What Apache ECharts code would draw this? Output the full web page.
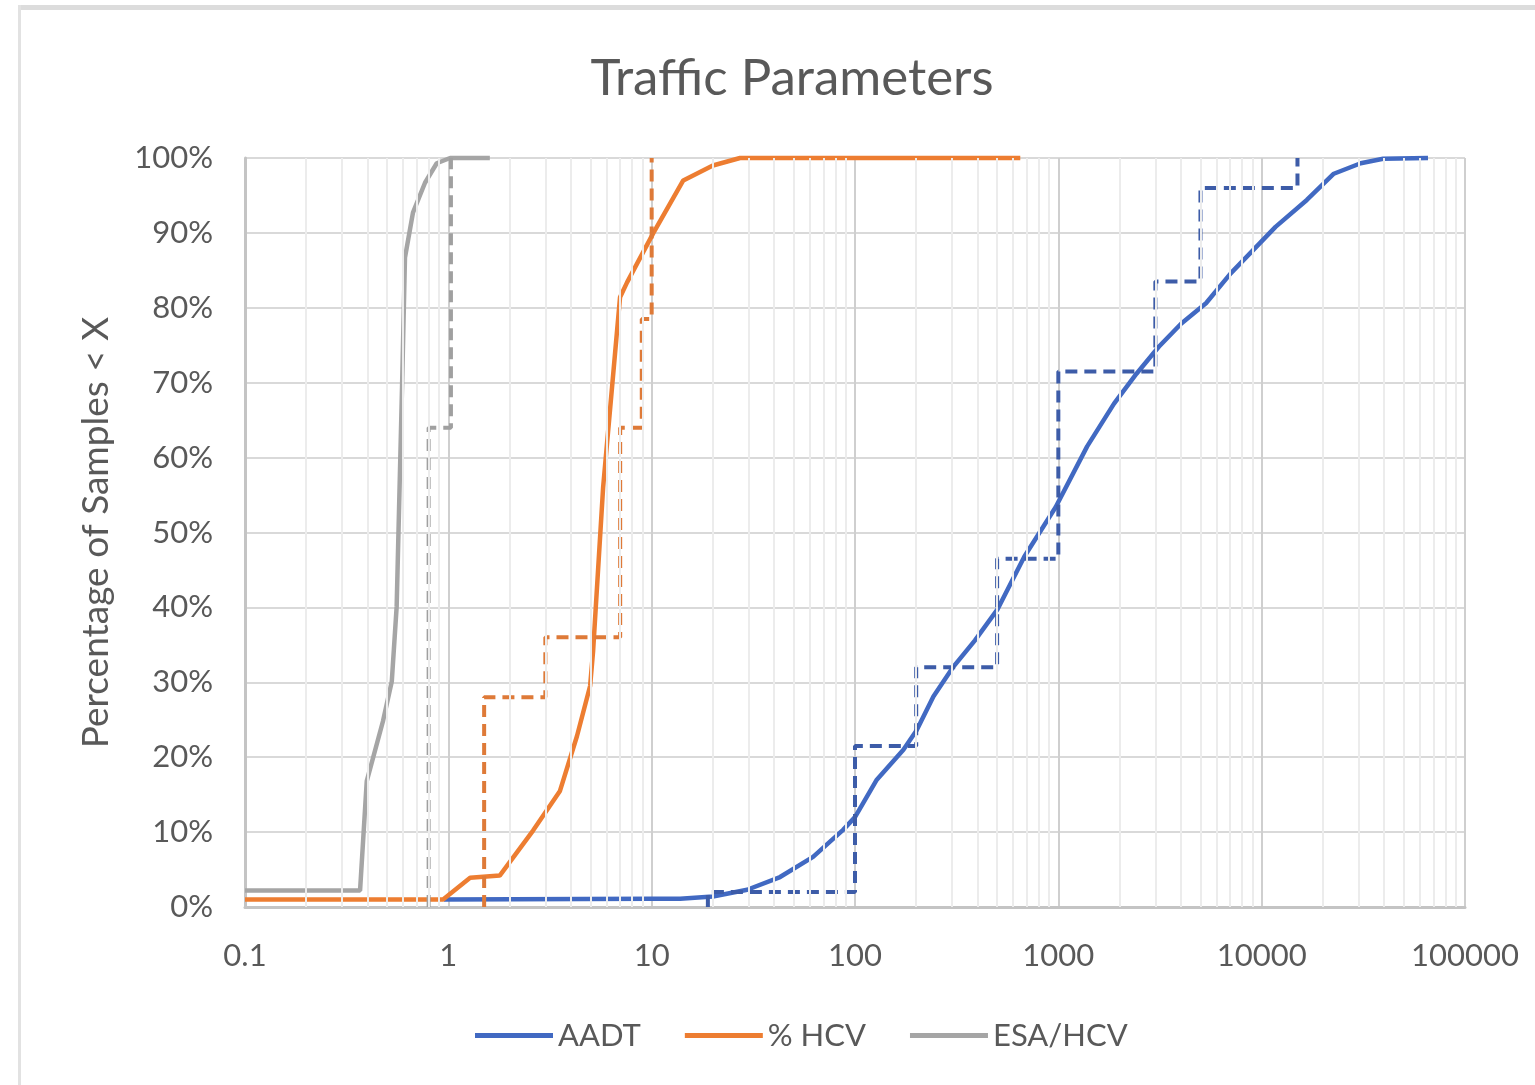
<!DOCTYPE html>
<html>
<head>
<meta charset="utf-8">
<script src="https://cdn.jsdelivr.net/npm/echarts@6/dist/echarts.min.js"></script>
<style>
  html, body { margin: 0; padding: 0; background: #ffffff; }
  #chart { width: 1535px; height: 1085px; }
</style>
</head>
<body>
<div id="chart"></div>
<script>
// ---- Data ----
const xTickLabels = ['0.1', '1', '10', '100', '1000', '10000', '100000'];
const seriesNames = ['AADT', '% HCV', 'ESA/HCV'];

// Cumulative curves: [x, percentage of samples < x]
const aadtCurve = [[0.95,1],[10,1.1],[13.8,1.1],[20,1.4],[29.5,2.3],[42.8,4.0],[62.2,6.7],[87.4,10.3],[100,12],[128,17],[173,21],[201,23.6],[243,28.1],[305,32.1],[389,35.6],[501,39.7],[681,46.8],[971,53.4],[1386,61.5],[1879,67.2],[2423,71.2],[3120,74.8],[4027,77.9],[5323,80.6],[7041,84.6],[9077,87.7],[11700,90.8],[16680,94.4],[22640,97.9],[30700,99.3],[39550,99.9],[65760,100]];
const hcvCurve = [[0.1,1],[0.942,1],[1.28,3.9],[1.79,4.2],[2.61,10.2],[3.54,15.5],[4.29,22.8],[4.98,29.5],[5.15,34.1],[5.77,56],[6.99,81.4],[7.57,83.4],[10.2,90],[14.3,97],[20,99],[27.2,100],[650,100]];
const esaCurve = [[0.1,2.2],[0.368,2.2],[0.397,16.8],[0.477,24.8],[0.527,30.1],[0.557,40.1],[0.592,69.4],[0.612,86.7],[0.670,92.7],[0.768,96.7],[0.877,99.3],[1.02,100],[1.6,100]];

// Step (binned) distributions drawn dashed
const aadtSteps = [[18.9,0],[18.9,2],[100,2],[100,21.5],[200,21.5],[200,32],[500,32],[500,46.5],[1000,46.5],[1000,71.5],[3000,71.5],[3000,83.5],[5000,83.5],[5000,96],[15000,96],[15000,100]];
const hcvSteps = [[1.5,0],[1.5,28],[3,28],[3,36],[7,36],[7,64],[8.94,64],[8.94,78.5],[10,78.5],[10,100]];
const esaSteps = [[0.8,0],[0.8,64],[1.03,64],[1.03,100]];

// minor log gridline positions (2..9 within each decade)
const minorDecades = [0.1, 1, 10, 100, 1000, 10000];
const minorMultipliers = [2, 3, 4, 5, 6, 7, 8, 9];

// ---- Styles ----
const FONT = 'Lato';
const TXT = '#595959';
const colors = { blue: '#4169C2', orange: '#ED7D31', gray: '#A5A5A5' };
const dashColors = { blue: '#3D5CA8', orange: '#DE7A38', gray: '#A0A0A0' };

const minorLines = [];
minorDecades.forEach(d => minorMultipliers.forEach(m => minorLines.push({ xAxis: +(d * m).toPrecision(6) })));

function solid(name, data, color, z) {
  return { name, type: 'line', data, symbol: 'none', showSymbol: false, clip: false, z,
    lineStyle: { color, width: 4.5 }, itemStyle: { color }, emphasis: { disabled: true } };
}
function dashed(name, data, color, z) {
  return { name, type: 'line', data, symbol: 'none', showSymbol: false, clip: false, z,
    lineStyle: { color, width: 4, type: [12, 7] }, itemStyle: { color }, emphasis: { disabled: true } };
}

const chart = echarts.init(document.getElementById('chart'), null, { renderer: 'canvas' });
chart.setOption({
  animation: false,
  backgroundColor: '#ffffff',
  graphic: [
    { type: 'rect', shape: { x: 18, y: 5, width: 1517, height: 5 }, style: { fill: '#dcdcdc' }, silent: true, z: -10 },
    { type: 'rect', shape: { x: 18, y: 5, width: 3, height: 1080 }, style: { fill: '#e2e2e2' }, silent: true, z: -10 }
  ],
  title: {
    text: 'Traffic Parameters',
    left: 792, top: 53, textAlign: 'center', padding: 0,
    textStyle: { fontFamily: FONT, fontSize: 51, fontWeight: 'normal', color: TXT }
  },
  legend: {
    data: seriesNames,
    left: 475, top: 1020,
    icon: 'rect',
    itemWidth: 78, itemHeight: 5, itemGap: 44,
    textStyle: { fontFamily: FONT, fontSize: 31, color: TXT },
    padding: 0
  },
  grid: { left: 245, top: 158, width: 1220, height: 749, containLabel: false },
  xAxis: {
    type: 'log', logBase: 10, min: 0.1, max: 100000,
    axisLine: { show: true, lineStyle: { color: '#c4c4c4', width: 3 } },
    axisTick: { show: false },
    splitLine: { show: true, lineStyle: { color: '#cfcfcf', width: 2 } },
    axisLabel: {
      fontFamily: FONT, fontSize: 31, color: TXT, margin: 33,
      formatter: v => xTickLabels[Math.round(Math.log10(v)) + 1] || ''
    }
  },
  yAxis: {
    type: 'value', min: 0, max: 100, interval: 10,
    name: 'Percentage of Samples < X', nameLocation: 'middle', nameGap: 130, nameRotate: 90,
    nameTextStyle: { fontFamily: FONT, fontSize: 37, color: TXT },
    axisLine: { show: true, lineStyle: { color: '#c4c4c4', width: 3 } },
    axisTick: { show: false },
    splitLine: { show: true, lineStyle: { color: '#d9d9d9', width: 2 } },
    axisLabel: { fontFamily: FONT, fontSize: 31, color: TXT, margin: 32, formatter: '{value}%' }
  },
  series: [
    { name: 'minor', type: 'line', data: [], z: 1, silent: true,
      markLine: { silent: true, symbol: 'none', label: { show: false },
        lineStyle: { color: '#ececec', width: 2, type: 'solid' }, data: minorLines, animation: false } },
    solid('AADT', aadtCurve, colors.blue, 3),
    solid('% HCV', hcvCurve, colors.orange, 3),
    solid('ESA/HCV', esaCurve, colors.gray, 3),
    dashed('AADT bins', aadtSteps, dashColors.blue, 4),
    dashed('% HCV bins', hcvSteps, dashColors.orange, 4),
    dashed('ESA/HCV bins', esaSteps, dashColors.gray, 4)
  ]
});
</script>
</body>
</html>
